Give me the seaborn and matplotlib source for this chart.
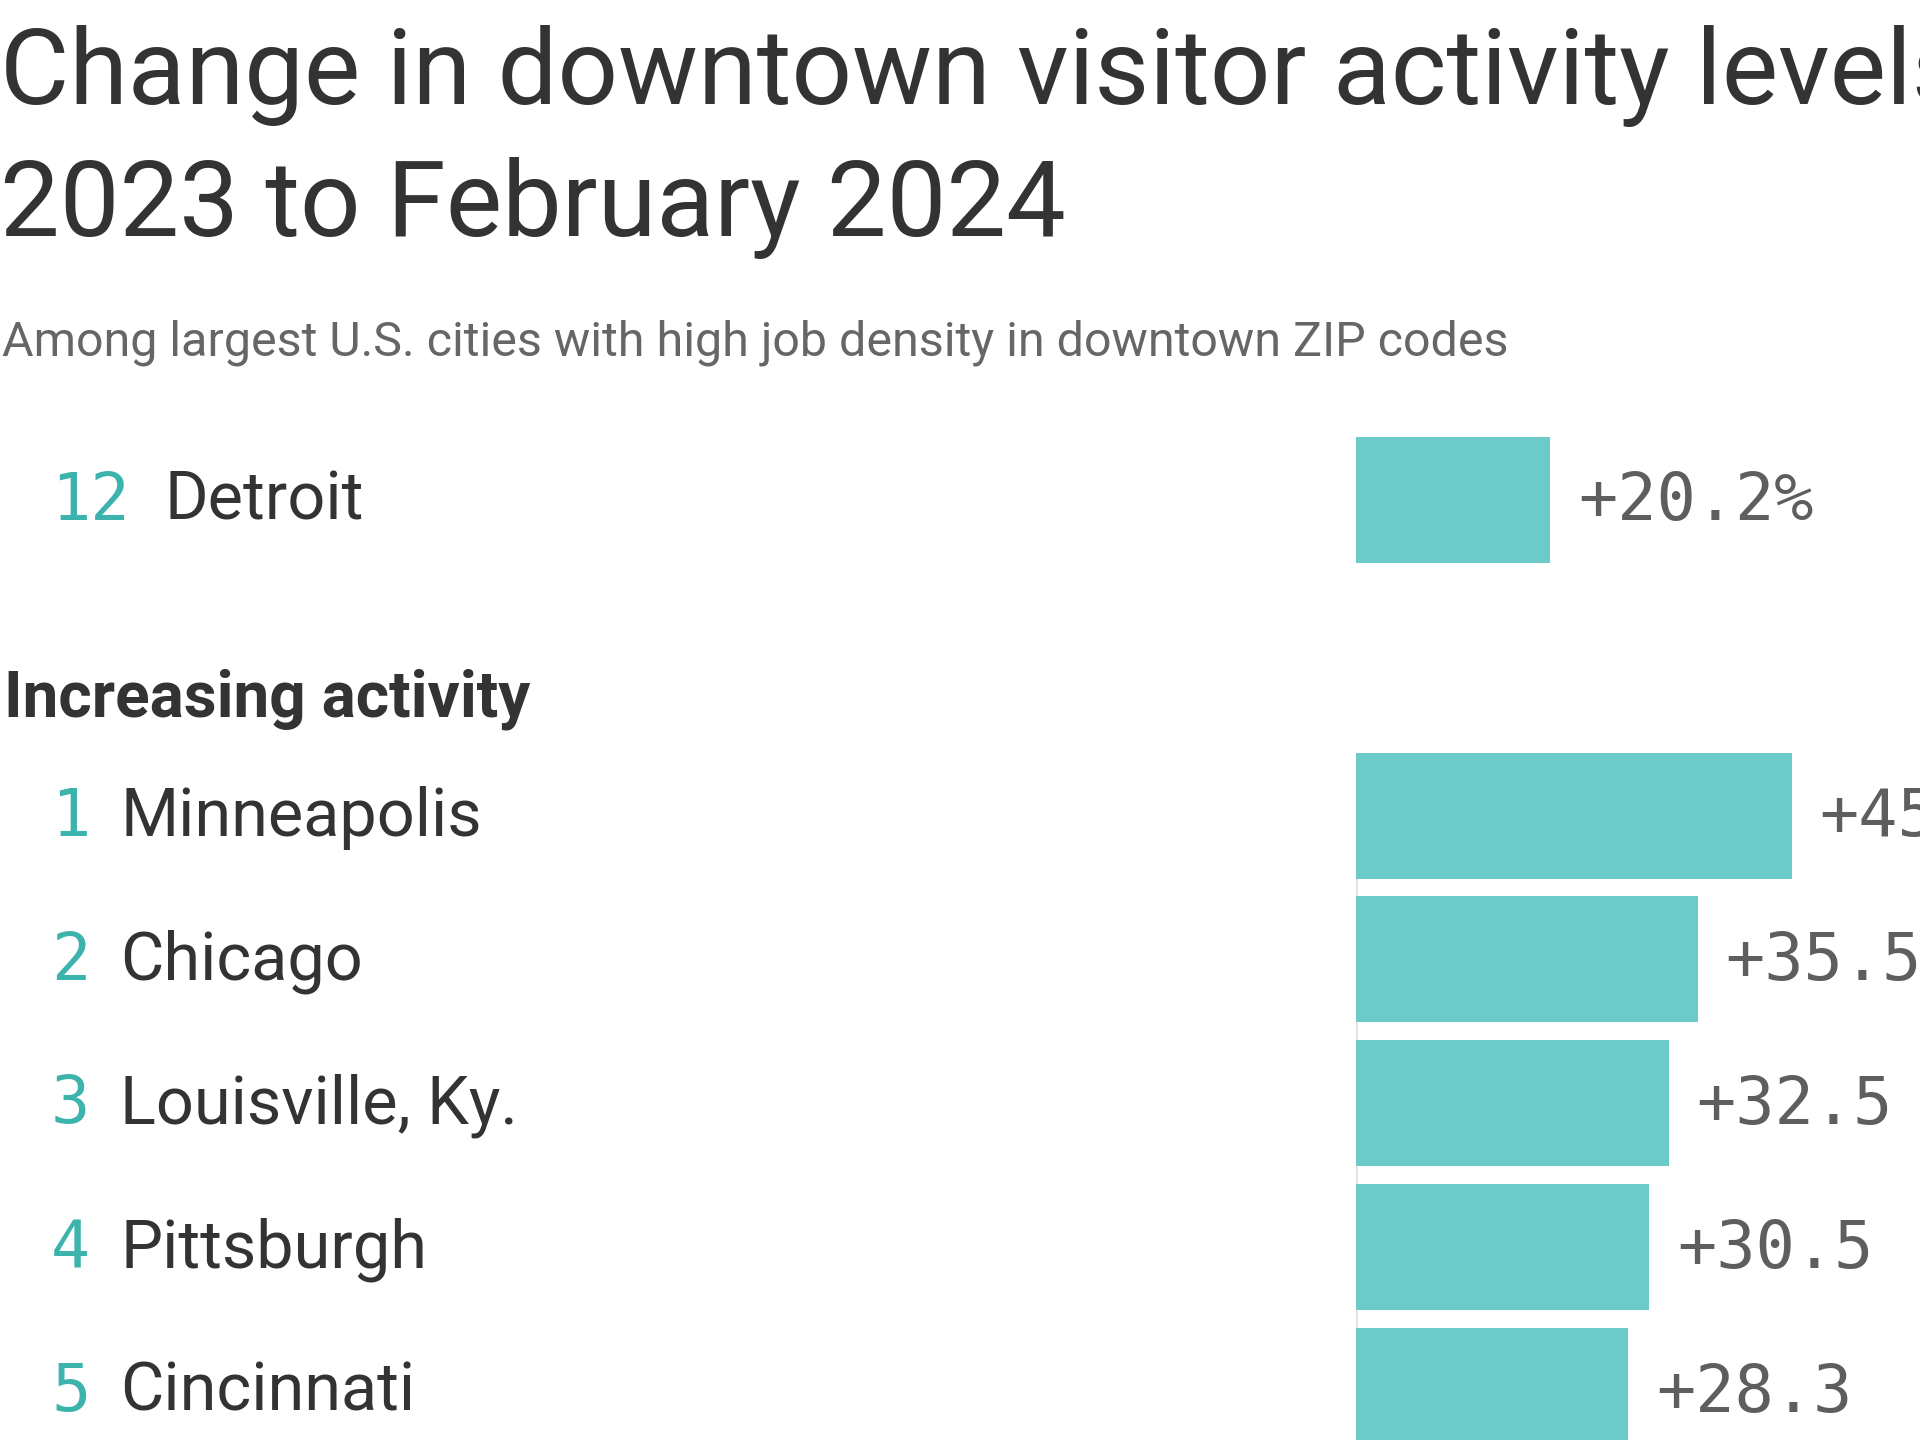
import matplotlib
matplotlib.use("Agg")
import matplotlib.pyplot as plt
import seaborn as sns
import pandas as pd
from matplotlib import transforms

TITLE_1 = "Change in downtown visitor activity levels, February"
TITLE_2 = "2023 to February 2024"
SUBTITLE = "Among largest U.S. cities with high job density in downtown ZIP codes"
SECTION = "Increasing activity"

# featured row
top_ranks = ["12"]
top_cities = ["Detroit"]
top_changes = [20.2]
top_labels = ["+20.2%"]

# increasing activity rows
ranks = ["1", "2", "3", "4", "5"]
cities = ["Minneapolis", "Chicago", "Louisville, Ky.", "Pittsburgh", "Cincinnati"]
changes = [45.3, 35.5, 32.5, 30.5, 28.3]
labels = ["+45.3%", "+35.5", "+32.5", "+30.5", "+28.3"]

BAR = "#6ccbc9"
TEAL = "#3db3ae"
DARK = "#333333"
GREY = "#666666"
VAL = "#5e5e5e"
XMAX = 58.6

sns.set_theme(style="white")
plt.rcParams["font.family"] = ["Roboto", "DejaVu Sans"]

W, H = 1920, 1440
fig = plt.figure(figsize=(19.2, 14.4), dpi=100)
fig.patch.set_facecolor("white")


def px(x, y):
    return x / W, 1 - y / H


fig.text(*px(0, 104), TITLE_1, fontsize=76.5, color=DARK, va="baseline")
fig.text(*px(0, 236), TITLE_2, fontsize=76.5, color=DARK, va="baseline")
fig.text(*px(2, 355), SUBTITLE, fontsize=34.8, color=GREY, va="baseline")
fig.text(*px(4, 716), SECTION, fontsize=46, color=DARK, va="baseline",
         fontweight="bold")

pitch = 143.8 / H
ax_left = 1355.6 / W
ax_w = 1 - ax_left
ax_top = fig.add_axes([ax_left, 1 - 571.5 / H, ax_w, pitch])
ax_bot = fig.add_axes([ax_left, 1 - (743.7 + 5 * 143.8) / H, ax_w, 5 * pitch])


def draw_rows(ax, rk, names, vals, labs, name_x, baseline=True):
    df = pd.DataFrame({"city": names, "change": vals})
    sns.barplot(data=df, x="change", y="city", color=BAR, saturation=1,
                width=0.876, linewidth=0, ax=ax)
    n = len(names)
    ax.set_xlim(0, XMAX)
    ax.set_ylim(n - 0.5, -0.5)
    if baseline:
        ax.axvline(0, ymin=0, ymax=1 - 0.5 / n, color="#e3e3e3", lw=2, zorder=0)
    ax.set_axis_off()
    trans = transforms.blended_transform_factory(fig.transFigure, ax.transData)
    trans = transforms.offset_copy(trans, fig=fig, y=-14.5, units="points")
    vtrans = transforms.offset_copy(ax.transData, fig=fig, x=20, y=-15,
                                    units="points")
    for i, (r, n_, v, l) in enumerate(zip(rk, names, vals, labs)):
        ax.text(51 / W, i, r, transform=trans, fontsize=47, color=TEAL,
                family=["DejaVu Sans Mono"], va="baseline")
        ax.text(name_x / W, i, n_, transform=trans, fontsize=48, color=DARK,
                va="baseline")
        ax.text(v, i, l, transform=vtrans, fontsize=47, color=VAL,
                family=["DejaVu Sans Mono"], va="baseline", clip_on=False)


draw_rows(ax_top, top_ranks, top_cities, top_changes, top_labels, 165,
          baseline=False)
draw_rows(ax_bot, ranks, cities, changes, labels, 120)

fig.savefig("out.png", dpi=100, facecolor="white")
